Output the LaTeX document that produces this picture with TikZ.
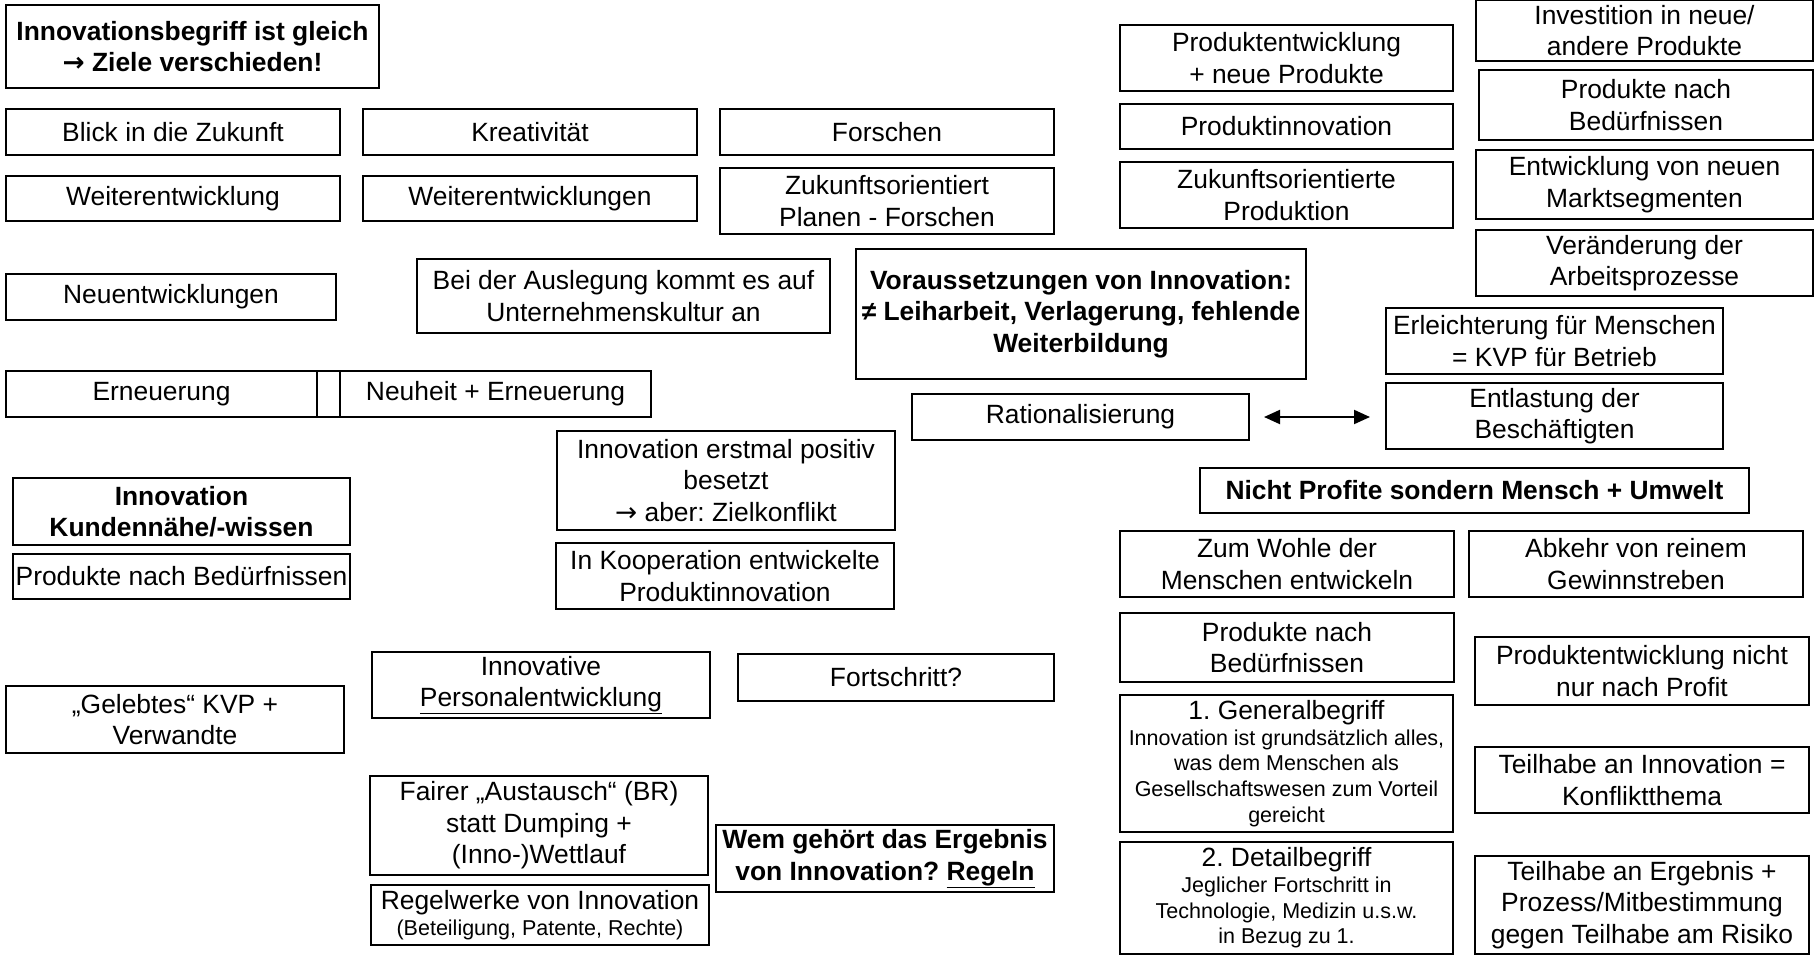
\documentclass[tikz,border=0pt]{standalone}
\usepackage{fontspec}
\setmainfont{Liberation Sans}
\newfontfamily\arrowfont{DejaVu Sans}
\usetikzlibrary{arrows.meta}
\frenchspacing
\newcommand\mainsz{\fontsize{26.4}{31.6}\selectfont}
\newcommand\smallsz{\fontsize{21.5}{25.6}\selectfont}
\newcommand\rarr{{\arrowfont →}}
\tikzset{
  box/.style={draw=black, line width=2pt, fill=white, inner sep=0pt, align=center, font=\mainsz},
  bbox/.style={box, font=\mainsz\bfseries},
  sbox/.style={box, font=\smallsz},
  arr/.style={line width=2pt, {Triangle[length=16pt,width=14pt]}-{Triangle[length=16pt,width=14pt]}}
}
% \bx[options]{name}{x1}{y1}{x2}{y2}{text}
\newcommand\bx[7][box]{%
  \node[#1, minimum width={(#5-#3)*1pt}, minimum height={(#6-#4)*1pt}] (#2) at ({(#3+#5)/2},{(#4+#6)/2}) {#7};}
\begin{document}
\begin{tikzpicture}[x=1pt,y=-1pt]
\useasboundingbox[fill=white] (0,0) rectangle (1820,958);
% left / centre columns
\bx[bbox]{title}{6}{5}{379}{88}{Innovationsbegriff ist gleich\\{\arrowfont\bfseries →} Ziele verschieden!}
\bx{blick}{6}{109}{340}{155}{Blick in die Zukunft}
\bx{kreat}{363}{109}{697}{155}{Kreativität}
\bx{forsch}{720}{109}{1054}{155}{Forschen}
\bx{weit1}{6}{176}{340}{221}{Weiterentwicklung}
\bx{weit2}{363}{176}{697}{221}{Weiterentwicklungen}
\bx{zuk}{720}{168}{1054}{234}{Zukunftsorientiert\\Planen - Forschen}
\bx{neu}{6}{274}{336}{320}{Neuentwicklungen}
\bx{ausl}{417}{259}{830}{333}{Bei der Auslegung kommt es auf\\Unternehmenskultur an}
\bx[bbox]{vor}{856}{249}{1306}{379}{Voraussetzungen von Innovation:\\≠ Leiharbeit, Verlagerung, fehlende\\Weiterbildung}
\bx{ern}{6}{371}{317}{417}{Erneuerung}
\bx{gap}{317}{371}{340}{417}{}
\bx{neuh}{340}{371}{651}{417}{Neuheit + Erneuerung}
\bx{rat}{912}{394}{1249}{440}{Rationalisierung}
\bx[bbox]{kund}{13}{478}{350}{545}{Innovation\\Kundennähe/-wissen}
\bx{pnb3}{13}{554}{350}{599}{Produkte nach Bedürfnissen}
\bx{pos}{557}{431}{895}{530}{Innovation erstmal positiv\\besetzt\\\rarr{} aber: Zielkonflikt}
\bx{koop}{556}{543}{894}{609}{In Kooperation entwickelte\\Produktinnovation}
\bx{gel}{6}{686}{344}{753}{„Gelebtes“ KVP +\\Verwandte}
\bx{ipe}{372}{652}{710}{718}{Innovative\\\underline{Personalentwicklung}}
\bx{fort}{738}{654}{1054}{701}{Fortschritt?}
\bx{fair}{370}{776}{708}{875}{Fairer „Austausch“ (BR)\\statt Dumping +\\(Inno-)Wettlauf}
\bx[sbox]{regel}{371}{885}{709}{945}{{\mainsz Regelwerke von Innovation}\\(Beteiligung, Patente, Rechte)}
\bx[bbox]{wem}{716}{825}{1054}{892}{Wem gehört das Ergebnis\\von Innovation? \underline{Regeln}}
% right columns
\bx{pe}{1120}{25}{1453}{91}{Produktentwicklung\\+ neue Produkte}
\bx{pi}{1120}{104}{1453}{149}{Produktinnovation}
\bx{zp}{1120}{162}{1453}{228}{Zukunftsorientierte\\Produktion}
\bx{inv}{1476}{0}{1813}{61}{Investition in neue/\\andere Produkte}
\bx{pnb1}{1479}{70}{1813}{140}{Produkte nach\\Bedürfnissen}
\bx{ent}{1476}{150}{1813}{219}{Entwicklung von neuen\\Marktsegmenten}
\bx{ver}{1476}{230}{1813}{296}{Veränderung der\\Arbeitsprozesse}
\bx{erl}{1386}{308}{1723}{374}{Erleichterung für Menschen\\= KVP für Betrieb}
\bx{entl}{1386}{383}{1723}{449}{Entlastung der\\Beschäftigten}
\bx[bbox]{nicht}{1200}{468}{1749}{513}{Nicht Profite sondern Mensch + Umwelt}
\bx{wohl}{1120}{531}{1454}{597}{Zum Wohle der\\Menschen entwickeln}
\bx{abk}{1469}{531}{1803}{597}{Abkehr von reinem\\Gewinnstreben}
\bx{pnb2}{1120}{613}{1454}{682}{Produkte nach\\Bedürfnissen}
\bx{pnp}{1475}{637}{1809}{705}{Produktentwicklung nicht\\nur nach Profit}
\bx[sbox]{gen}{1120}{695}{1453}{832}{{\mainsz 1. Generalbegriff}\\Innovation ist grundsätzlich alles,\\was dem Menschen als\\Gesellschaftswesen zum Vorteil\\gereicht}
\bx[sbox]{det}{1120}{842}{1453}{954}{{\mainsz 2. Detailbegriff}\\Jeglicher Fortschritt in\\Technologie, Medizin u.s.w.\\in Bezug zu 1.}
\bx{tinn}{1475}{747}{1809}{813}{Teilhabe an Innovation =\\Konfliktthema}
\bx{terg}{1475}{856}{1809}{954}{Teilhabe an Ergebnis +\\Prozess/Mitbestimmung\\gegen Teilhabe am Risiko}
% connector
\draw[arr, shorten <=14pt, shorten >=15pt] (rat.east) -- (rat.east -| entl.west);
\end{tikzpicture}
\end{document}
